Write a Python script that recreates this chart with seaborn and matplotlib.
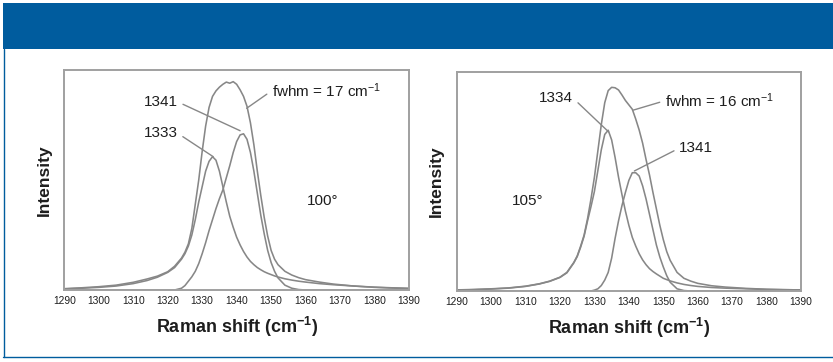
import matplotlib
matplotlib.use("Agg")
import matplotlib.pyplot as plt
import seaborn as sns
import pandas as pd
from matplotlib.patches import Rectangle
from matplotlib.lines import Line2D

# ---------------- data ----------------
shift = [1290, 1295, 1300, 1305, 1310, 1314, 1317, 1320, 1322, 1324, 1325, 1326,
         1327, 1328, 1329, 1330, 1331, 1332, 1333, 1334, 1335, 1336, 1337, 1338,
         1339, 1340, 1341, 1342, 1343, 1344, 1345, 1346, 1347, 1348, 1349, 1350,
         1351, 1352, 1354, 1356, 1358, 1360, 1364, 1368, 1374, 1380, 1385, 1390]

# 100 degree panel
env_100 = [0.006, 0.010, 0.015, 0.022, 0.035, 0.050, 0.063, 0.083, 0.108, 0.145, 0.172, 0.210,
           0.280, 0.390, 0.500, 0.630, 0.745, 0.830, 0.880, 0.905, 0.922, 0.935, 0.945, 0.940,
           0.947, 0.935, 0.910, 0.880, 0.835, 0.760, 0.660, 0.540, 0.430, 0.330, 0.245, 0.180,
           0.140, 0.115, 0.085, 0.068, 0.056, 0.047, 0.036, 0.027, 0.018, 0.012, 0.009, 0.006]
band_1333 = [0.005, 0.008, 0.012, 0.018, 0.029, 0.043, 0.058, 0.080, 0.102, 0.140, 0.165, 0.200,
             0.250, 0.320, 0.400, 0.470, 0.540, 0.585, 0.606, 0.590, 0.540, 0.470, 0.400, 0.335,
             0.285, 0.240, 0.205, 0.175, 0.150, 0.130, 0.115, 0.102, 0.092, 0.083, 0.076, 0.070,
             0.064, 0.059, 0.051, 0.045, 0.040, 0.036, 0.029, 0.024, 0.018, 0.013, 0.010, 0.008]
band_1341_a = [0.0, 0.0, 0.0, 0.0, 0.0, 0.0, 0.0, 0.0, 0.0, 0.008, 0.020, 0.040,
               0.060, 0.085, 0.120, 0.165, 0.215, 0.270, 0.320, 0.370, 0.415, 0.455, 0.510, 0.565,
               0.625, 0.675, 0.705, 0.710, 0.685, 0.625, 0.540, 0.440, 0.340, 0.255, 0.180, 0.125,
               0.085, 0.055, 0.022, 0.008, 0.002, 0.0, 0.0, 0.0, 0.0, 0.0, 0.0, 0.0]

# 105 degree panel
env_105 = [0.005, 0.007, 0.010, 0.014, 0.022, 0.033, 0.045, 0.063, 0.085, 0.130, 0.160, 0.205,
           0.255, 0.330, 0.420, 0.520, 0.640, 0.760, 0.860, 0.915, 0.930, 0.928, 0.918, 0.895,
           0.870, 0.850, 0.830, 0.785, 0.735, 0.675, 0.600, 0.530, 0.450, 0.375, 0.300, 0.235,
           0.180, 0.140, 0.085, 0.058, 0.045, 0.035, 0.024, 0.018, 0.012, 0.008, 0.006, 0.005]
band_1334 = [0.004, 0.006, 0.009, 0.013, 0.021, 0.032, 0.044, 0.062, 0.083, 0.128, 0.157, 0.200,
             0.250, 0.320, 0.385, 0.455, 0.550, 0.645, 0.715, 0.734, 0.690, 0.610, 0.520, 0.440,
             0.365, 0.300, 0.245, 0.205, 0.170, 0.142, 0.120, 0.102, 0.089, 0.078, 0.068, 0.058,
             0.052, 0.046, 0.037, 0.030, 0.025, 0.021, 0.016, 0.013, 0.010, 0.007, 0.006, 0.005]
band_1341_b = [0.0, 0.0, 0.0, 0.0, 0.0, 0.0, 0.0, 0.0, 0.0, 0.0, 0.0, 0.0,
               0.0, 0.0, 0.0, 0.004, 0.010, 0.025, 0.050, 0.085, 0.150, 0.240, 0.320, 0.390,
               0.450, 0.505, 0.540, 0.540, 0.525, 0.480, 0.420, 0.350, 0.280, 0.210, 0.155, 0.110,
               0.070, 0.040, 0.010, 0.002, 0.0, 0.0, 0.0, 0.0, 0.0, 0.0, 0.0, 0.0]

x_ticks = [1290, 1300, 1310, 1320, 1330, 1340, 1350, 1360, 1370, 1380, 1390]

# ---------------- styling ----------------
sns.set_style("white")
plt.rcParams["font.family"] = ["Liberation Sans", "DejaVu Sans"]
plt.rcParams["mathtext.default"] = "regular"

BLUE = "#005C9E"
CURVE = "#878787"
FRAME = "#a0a0a0"
TXT = "#1e1e1e"

fig = plt.figure(figsize=(8.33, 3.62), dpi=100)
fig.patch.set_facecolor("white")

# header band and border
fig.patches.append(Rectangle((3 / 833, (362 - 49) / 362), 1 - 3 / 833, 46 / 362,
                             transform=fig.transFigure, facecolor=BLUE, edgecolor="none", zorder=0))
fig.lines.append(Line2D([3.5 / 833, 3.5 / 833], [(362 - 49) / 362, (362 - 357) / 362],
                        transform=fig.transFigure, color=BLUE, lw=1.0))
fig.lines.append(Line2D([3 / 833, 1.0], [(362 - 357) / 362, (362 - 357) / 362],
                        transform=fig.transFigure, color=BLUE, lw=1.0))

ax1 = fig.add_axes([64.3 / 833, (362 - 290) / 362, 344.7 / 833, 220 / 362])
ax2 = fig.add_axes([456.7 / 833, (362 - 291) / 362, 344.3 / 833, 219 / 362])

panels = [
    (ax1, {"envelope": env_100, "1333": band_1333, "1341": band_1341_a}),
    (ax2, {"envelope": env_105, "1334": band_1334, "1341": band_1341_b}),
]

for ax, curves in panels:
    frames = []
    for name, vals in curves.items():
        frames.append(pd.DataFrame({"shift": shift, "intensity": vals, "curve": name}))
    df = pd.concat(frames, ignore_index=True)
    sns.lineplot(data=df, x="shift", y="intensity", hue="curve",
                 palette=[CURVE] * len(curves), legend=False, ax=ax,
                 linewidth=1.15, estimator=None)
    ax.set_xlim(1290, 1390)
    ax.set_ylim(0, 1)
    ax.set_xticks(x_ticks)
    ax.set_xticklabels([str(t) for t in x_ticks], fontsize=7.4, color=TXT)
    ax.set_yticks([])
    ax.tick_params(axis="x", direction="in", length=2.5, width=0.8, color=FRAME, pad=4.5)
    for sp in ax.spines.values():
        sp.set_visible(True)
        sp.set_color(FRAME)
        sp.set_linewidth(1.4)
    ax.set_xlabel("Raman shift (cm$^{-1}$)", fontweight="bold",
                  fontsize=13, color=TXT, labelpad=6)
    ax.set_ylabel("Intensity", fontweight="bold", fontsize=12.5,
                  color=TXT, labelpad=9)

line_kw = dict(arrowstyle="-", color=CURVE, lw=1.0, shrinkA=1.5, shrinkB=0)
ann_kw = dict(fontsize=11, color=TXT, va="center")

# left panel annotations
ax1.annotate("1341", xy=(1341.0, 0.724), xytext=(1318.0, 0.855), ha="center",
             arrowprops=dict(relpos=(1, 0.5), **line_kw), **ann_kw)
ax1.annotate("1333", xy=(1333.2, 0.606), xytext=(1318.0, 0.712), ha="center",
             arrowprops=dict(relpos=(1, 0.5), **line_kw), **ann_kw)
ax1.annotate("fwhm = 17 cm$^{-1}$", xy=(1342.9, 0.826), xytext=(1350.2, 0.906), ha="left",
             arrowprops=dict(relpos=(0, 0.5), **line_kw), **ann_kw)
ax1.text(1364.8, 0.405, "100°", ha="center", **ann_kw)

# right panel annotations
ax2.annotate("1334", xy=(1334.1, 0.727), xytext=(1318.9, 0.880), ha="center",
             arrowprops=dict(relpos=(1, 0.5), **line_kw), **ann_kw)
ax2.annotate("fwhm = 16 cm$^{-1}$", xy=(1341.3, 0.826), xytext=(1350.5, 0.869), ha="left",
             arrowprops=dict(relpos=(0, 0.5), **line_kw), **ann_kw)
ax2.annotate("1341", xy=(1341.6, 0.548), xytext=(1354.6, 0.652), ha="left",
             arrowprops=dict(relpos=(0, 0.5), **line_kw), **ann_kw)
ax2.text(1310.6, 0.412, "105°", ha="center", **ann_kw)

fig.savefig("out.png", dpi=100, facecolor="white")
